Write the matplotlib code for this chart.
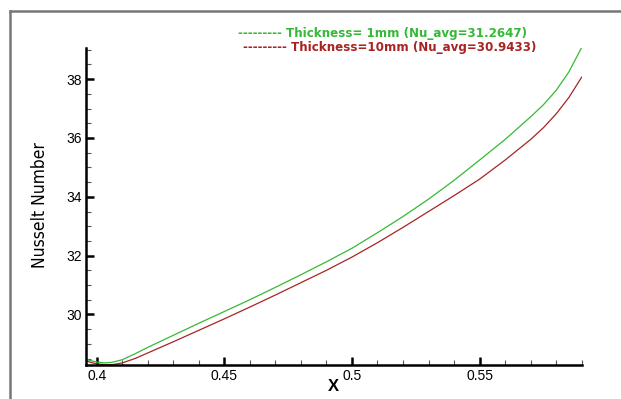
import numpy as np
import matplotlib.pyplot as plt
from matplotlib.lines import Line2D
from matplotlib.ticker import MultipleLocator

# values
x_pos = [0.3958, 0.398, 0.400, 0.403, 0.406, 0.41, 0.415, 0.42, 0.43, 0.44, 0.45, 0.46, 0.47, 0.48,
         0.49, 0.50, 0.51, 0.52, 0.53, 0.54, 0.55, 0.56, 0.57, 0.575, 0.58, 0.585, 0.59]
nu_1mm = [28.47, 28.42, 28.38, 28.35, 28.37, 28.46, 28.66, 28.88, 29.29, 29.70, 30.10, 30.50, 30.92, 31.35,
          31.79, 32.25, 32.78, 33.33, 33.92, 34.56, 35.25, 35.95, 36.72, 37.13, 37.62, 38.25, 39.08]
nu_10mm = [28.42, 28.36, 28.32, 28.29, 28.29, 28.35, 28.50, 28.69, 29.07, 29.46, 29.85, 30.25, 30.66, 31.08,
           31.50, 31.95, 32.44, 32.96, 33.50, 34.04, 34.60, 35.25, 35.95, 36.35, 36.82, 37.38, 38.07]
labels = ['--------- Thickness= 1mm (Nu_avg=31.2647)',
          '--------- Thickness=10mm (Nu_avg=30.9433)']
green = '#36b936'
red = '#a82424'

plt.rcParams['font.family'] = ['Liberation Sans', 'DejaVu Sans']

fig = plt.figure(figsize=(6.21, 3.99), dpi=100)
W, H = 621.0, 399.0
ax = fig.add_axes([86 / W, 1 - 365 / H, (581.7 - 86) / W, (365 - 48.3) / H])

ax.plot(x_pos, nu_1mm, color=green, lw=0.9)
ax.plot(x_pos, nu_10mm, color=red, lw=0.9)

ax.set_xlim(0.3958, 0.59)
ax.set_ylim(28.28, 39.05)

ax.xaxis.set_minor_locator(MultipleLocator(0.01))
ax.yaxis.set_minor_locator(MultipleLocator(0.5))
ax.set_xticks([0.4, 0.45, 0.5, 0.55])
ax.set_xticklabels(['0.4', '0.45', '0.5', '0.55'])
ax.set_yticks([30, 32, 34, 36, 38])

for s in ['top', 'right']:
    ax.spines[s].set_visible(False)
for s in ['left', 'bottom']:
    ax.spines[s].set_linewidth(1.8)

ax.tick_params(which='major', direction='in', length=6, width=1.8, labelsize=10, pad=3)
ax.tick_params(which='minor', direction='in', length=3.5, width=0.8, color='#555555')

ax.set_xlabel('X', fontsize=12, fontweight='bold', labelpad=-3)
fig.text(40 / W, 1 - 205 / H, 'Nusselt Number', rotation=90, ha='center', va='center',
         fontsize=12.5, family='DejaVu Sans', fontstretch='condensed')

fig.text(238 / W, 1 - 34 / H, labels[0], color=green, fontsize=8.6, fontweight='bold',
         va='center', family='DejaVu Sans')
fig.text(243 / W, 1 - 48 / H, labels[1], color=red, fontsize=8.6, fontweight='bold',
         va='center', family='DejaVu Sans')

# frame lines on left and top of the picture
fig.add_artist(Line2D([10 / W, 10 / W], [0, 1 - 11 / H], color='#777777', lw=1.8, transform=fig.transFigure))
fig.add_artist(Line2D([10 / W, 0.999], [1 - 11 / H, 1 - 11 / H], color='#777777', lw=1.8, transform=fig.transFigure))

fig.savefig('out.png', dpi=100)
